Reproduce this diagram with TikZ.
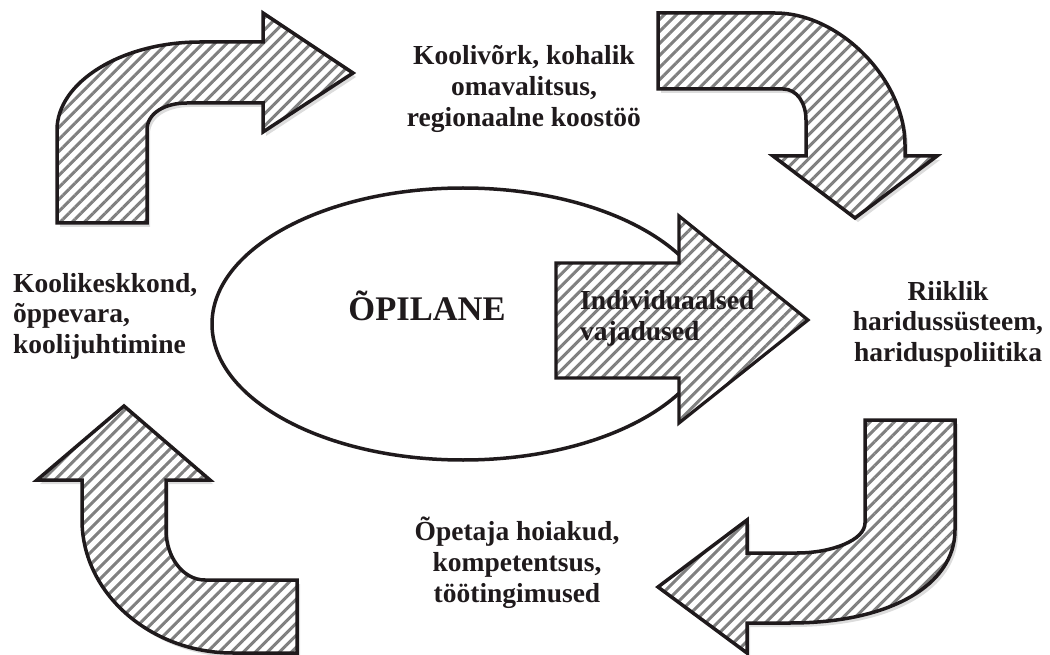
\documentclass[tikz,border=0pt]{standalone}
\usepackage{fontspec}
\setmainfont{Liberation Serif}
\usetikzlibrary{patterns.meta,shapes.geometric}
\definecolor{ink}{HTML}{1F1A1C}
\definecolor{shade}{HTML}{DCDCDC}
\tikzset{
  arrowshape/.style={line width=3.5pt, line join=miter, draw=ink,
    pattern={Lines[angle=45,distance=8.5pt,line width=3pt]}, pattern color=black!50},
  shadowfill/.style={fill=shade},
  lbl/.style={inner sep=0pt, text=ink, font=\fontsize{27.5}{31}\selectfont\bfseries},
}
\def\pTL{(57,223) -- (57,130) .. controls (57,82) and (122,42) .. (200,42) -- (263,42) -- (263,13) -- (353,73) -- (263,132) -- (263,103) -- (187,103) .. controls (165,103) and (147,113) .. (147,130) -- (147,223) -- cycle}
\def\pTR{(658,13) -- (775,13) .. controls (840,13) and (905,80) .. (905,145) -- (905,156) -- (937,156) -- (855,218) -- (773,156) -- (806,156) -- (806,120) .. controls (806,103) and (797,89) .. (783,89) -- (658,89) -- cycle}
\def\pBR{(865,420) -- (955,420) -- (955,530) .. controls (955,585) and (890,623) .. (790,623) -- (747,623) -- (747,653) -- (658,587) -- (747,520) -- (747,553) -- (797,553) .. controls (832,553) and (865,540) .. (865,523) -- cycle}
\def\pBL{(297,653) -- (233,653) .. controls (150,653) and (82,593) .. (82,520) -- (82,480) -- (37,480) -- (124,406) -- (210,480) -- (166,480) -- (166,530) .. controls (166,557) and (183,580) .. (205,580) -- (297,580) -- cycle}
\def\pMid{(556,263) -- (679,263) -- (679,216) -- (808,320) -- (679,423) -- (679,378) -- (556,378) -- cycle}
\begin{document}
\begin{tikzpicture}[x=1pt,y=-1pt]
\useasboundingbox (0,0) rectangle (1050,655);
% shadows
\begin{scope}[shift={(3,4)}]
  \fill[shadowfill] \pTL;
  \fill[shadowfill] \pTR;
  \fill[shadowfill] \pBR;
  \fill[shadowfill] \pBL;
\end{scope}
% curved arrows
\fill[white] \pTL; \draw[arrowshape] \pTL;
\fill[white] \pTR; \draw[arrowshape] \pTR;
\fill[white] \pBR; \draw[arrowshape] \pBR;
\fill[white] \pBL; \draw[arrowshape] \pBL;
% ellipse
\node[ellipse, draw=ink, line width=3.5pt, minimum width=502pt, minimum height=272pt, inner sep=0pt] (pupil) at (463,324) {};
\node[inner sep=0pt, anchor=base, text=ink, font=\fontsize{34.5}{40}\selectfont\bfseries] (opilane) at (427,320) {ÕPILANE};
% middle arrow
\fill[white] \pMid; \draw[arrowshape, line width=3.2pt] \pMid;
\node[lbl, anchor=base west] (needs) at (580,309) {\begin{tabular}[t]{@{}l@{}}Individuaalsed\\vajadused\end{tabular}};
% labels
\node[lbl, anchor=base] (top) at (524,65) {\begin{tabular}[t]{@{}c@{}}Koolivõrk, kohalik\\omavalitsus,\\regionaalne koostöö\end{tabular}};
\node[lbl, anchor=base west] (left) at (13,292) {\begin{tabular}[t]{@{}l@{}}Koolikeskkond,\\õppevara,\\koolijuhtimine\end{tabular}};
\node[lbl, anchor=base] (right) at (948,300) {\begin{tabular}[t]{@{}c@{}}Riiklik\\haridussüsteem,\\hariduspoliitika\end{tabular}};
\node[lbl, anchor=base] (bottom) at (517,540) {\begin{tabular}[t]{@{}c@{}}Õpetaja hoiakud,\\kompetentsus,\\töötingimused\end{tabular}};
\end{tikzpicture}
\end{document}
